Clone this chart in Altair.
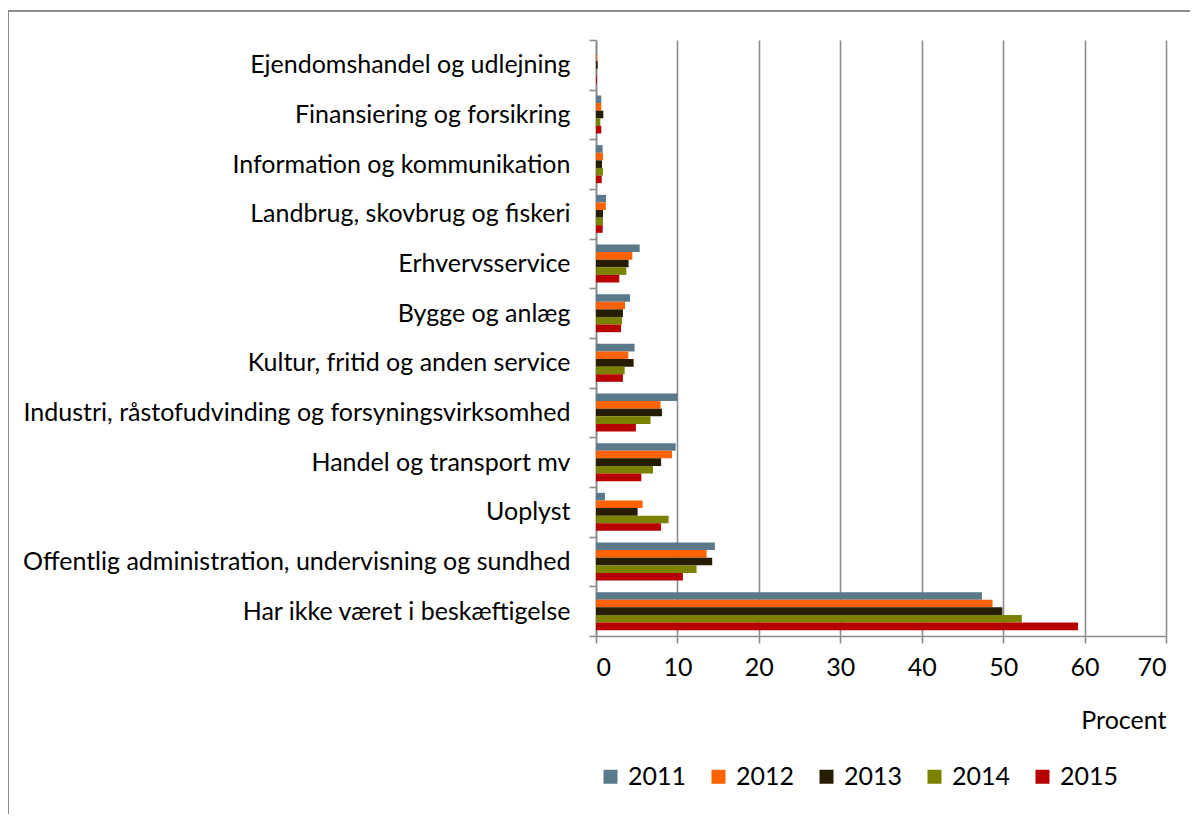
import altair as alt
import pandas as pd

categories = [
    "Ejendomshandel og udlejning",
    "Finansiering og forsikring",
    "Information og kommunikation",
    "Landbrug, skovbrug og fiskeri",
    "Erhvervsservice",
    "Bygge og anlæg",
    "Kultur, fritid og anden service",
    "Industri, råstofudvinding og forsyningsvirksomhed",
    "Handel og transport mv",
    "Uoplyst",
    "Offentlig administration, undervisning og sundhed",
    "Har ikke været i beskæftigelse",
]
years = ["2011", "2012", "2013", "2014", "2015"]
colors = ["#5A7A8B", "#FF6200", "#261D03", "#7B8200", "#B80000"]

v2011 = [0.1, 0.65, 0.82, 1.23, 5.36, 4.17, 4.74, 10.0, 9.78, 1.1, 14.6, 47.4]
v2012 = [0.1, 0.65, 0.86, 1.2, 4.46, 3.56, 3.97, 7.93, 9.33, 5.73, 13.58, 48.7]
v2013 = [0.2, 0.9, 0.74, 0.86, 4.0, 3.31, 4.62, 8.1, 8.0, 5.11, 14.27, 49.9]
v2014 = [0.05, 0.53, 0.86, 0.86, 3.72, 3.19, 3.52, 6.7, 7.0, 8.92, 12.35, 52.3]
v2015 = [0.1, 0.65, 0.7, 0.82, 2.86, 3.07, 3.31, 4.9, 5.56, 7.98, 10.67, 59.2]
x_ticks = [0, 10, 20, 30, 40, 50, 60, 70]

series = [v2011, v2012, v2013, v2014, v2015]
rows = []
for yr, vals in zip(years, series):
    for c, v in zip(categories, vals):
        rows.append({"cat": c, "year": yr, "value": v})
df = pd.DataFrame(rows)

FONT = "Lato"
FS = 25
GRAY = "#8C8C8C"
W, H = 570, 596

bars = alt.Chart(df).mark_bar(size=7.6).encode(
    x=alt.X("value:Q",
            scale=alt.Scale(domain=[0, 70], nice=False),
            axis=alt.Axis(values=x_ticks, grid=True, gridColor=GRAY, gridWidth=1.6,
                          domainColor=GRAY, domainWidth=1.6, tickColor=GRAY, tickWidth=1.6,
                          tickSize=7, labelPadding=12, labelFont=FONT, labelFontSize=FS,
                          labelColor="#000000", title="Procent", titleFont=FONT,
                          titleFontSize=FS, titleFontWeight="normal", titleColor="#000000",
                          titleAnchor="end", titlePadding=28)),
    y=alt.Y("cat:N", sort=categories,
            scale=alt.Scale(paddingInner=0, paddingOuter=0),
            axis=alt.Axis(title=None, tickBand="extent", tickSize=7, tickColor=GRAY,
                          tickWidth=1.6, domainColor=GRAY, domainWidth=1.6,
                          labelPadding=19, labelFont=FONT, labelFontSize=FS,
                          labelColor="#000000", labelLimit=700, grid=False)),
    yOffset=alt.YOffset("year:N", sort=years,
                        scale=alt.Scale(paddingInner=0, paddingOuter=0.77)),
    color=alt.Color("year:N", sort=years,
                    scale=alt.Scale(domain=years, range=colors),
                    legend=alt.Legend(title=None, orient="none", direction="horizontal",
                                      legendX=2, legendY=724, symbolType="square",
                                      symbolSize=196, symbolStrokeWidth=0,
                                      labelFont=FONT, labelFontSize=FS,
                                      labelColor="#000000", columnPadding=19,
                                      labelOffset=5)),
)

frame = alt.Chart(alt.Data(values=[{}])).mark_rule(color=GRAY, strokeWidth=2).encode(
    x=alt.value(-588), x2=alt.value(-588), y=alt.value(-29), y2=alt.value(800)
)
frame_top = alt.Chart(alt.Data(values=[{}])).mark_rule(color=GRAY, strokeWidth=2).encode(
    x=alt.value(-588), x2=alt.value(600), y=alt.value(-29), y2=alt.value(-29)
)

chart = alt.layer(bars, frame, frame_top).properties(
    width=W, height=H,
    autosize=alt.AutoSizeParams(type="none"),
    padding={"left": 588, "top": 32, "right": 24, "bottom": 178},
    background="white",
).configure_view(stroke=None)

chart.save("out.html", embed_options={"renderer": "svg", "actions": False})
